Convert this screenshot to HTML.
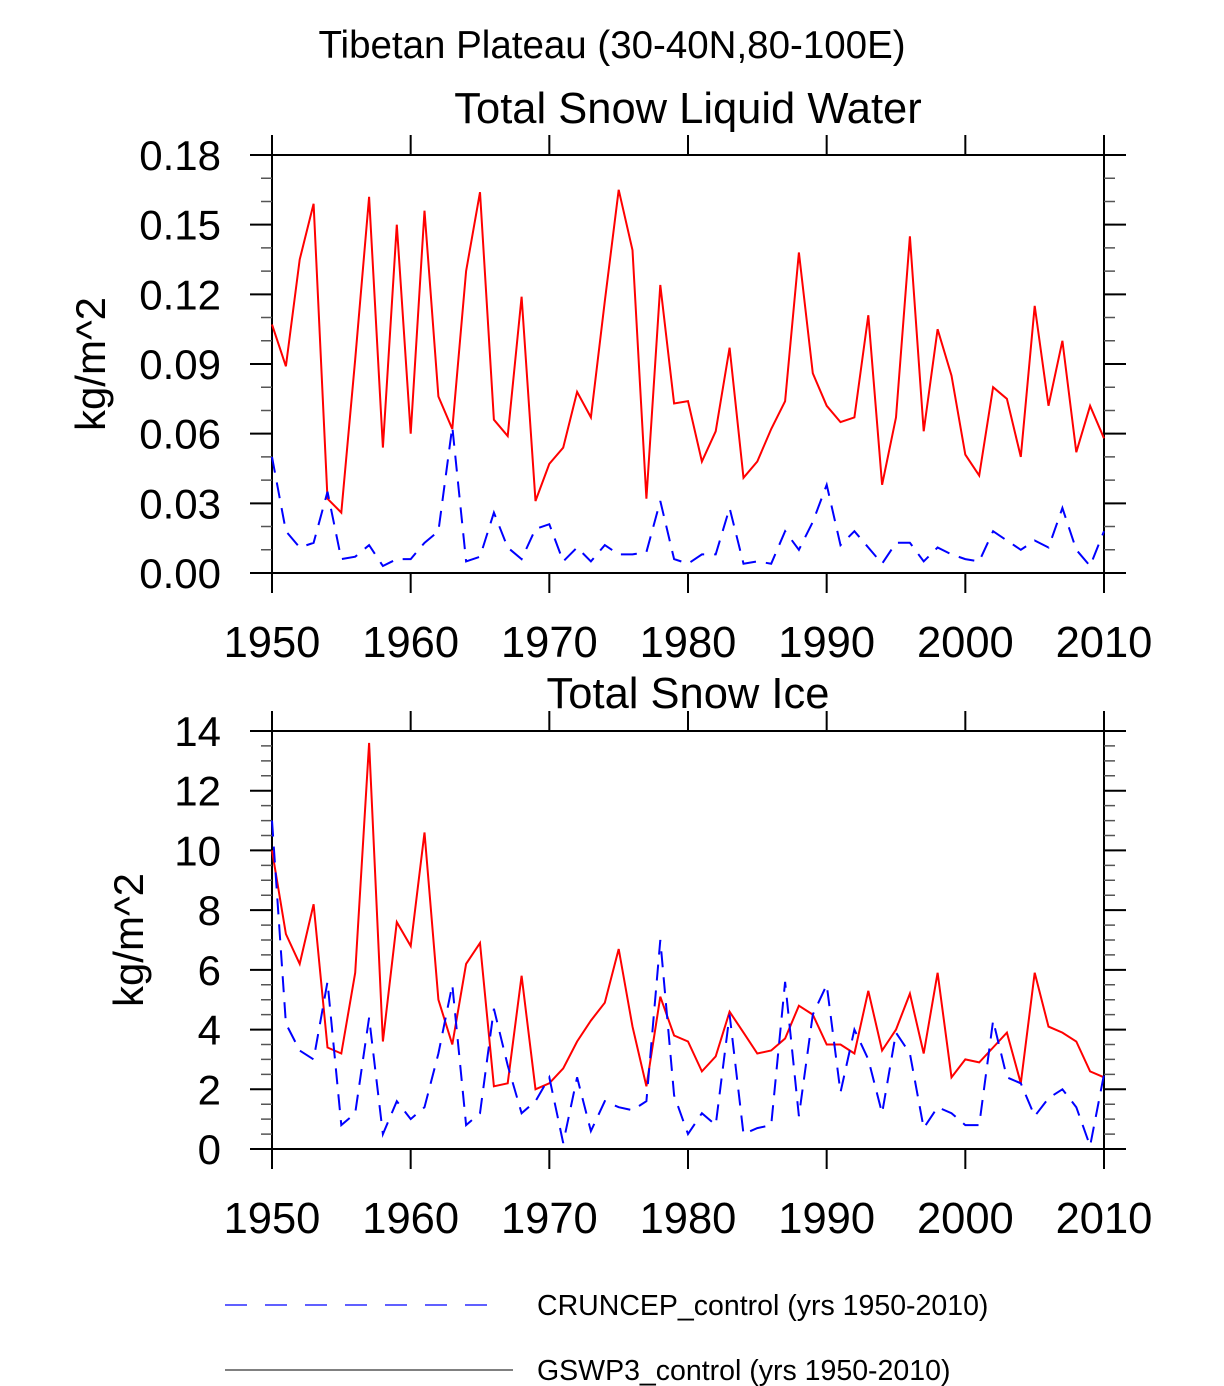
<!DOCTYPE html>
<html><head><meta charset="utf-8"><style>
body{margin:0;background:#fff;}
svg{display:block;font-family:"Liberation Sans",Arial,sans-serif;}
</style></head><body>
<svg id="chart" width="1224" height="1386" viewBox="0 0 1224 1386" xmlns="http://www.w3.org/2000/svg">
<text x="612" y="58" font-size="38.5" text-anchor="middle">Tibetan Plateau (30-40N,80-100E)</text>
<g id="p1"></g>
<g id="p2"></g>
<g>
<line x1="225" y1="1305" x2="505" y2="1305" stroke="#0000ff" stroke-width="1.3" stroke-dasharray="22,18"/>
<text x="537" y="1315" font-size="28.5">CRUNCEP_control (yrs 1950-2010)</text>
<line x1="225" y1="1370" x2="513" y2="1370" stroke="#000" stroke-width="1"/>
<text x="537" y="1380" font-size="28.5">GSWP3_control (yrs 1950-2010)</text>
</g>
</svg>
<script>
const years = [];
for (let y = 1950; y <= 2010; y++) years.push(y);
const xTicks = [1950,1960,1970,1980,1990,2000,2010];
const waterTicks = ["0.00","0.03","0.06","0.09","0.12","0.15","0.18"];
const iceTicks = ["0","2","4","6","8","10","12","14"];
const waterGSWP3 = [0.107,0.089,0.135,0.159,0.032,0.026,0.092,0.162,0.054,0.150,0.060,0.156,0.076,0.062,0.130,0.164,0.066,0.059,0.119,0.031,0.047,0.054,0.078,0.067,0.117,0.165,0.139,0.032,0.124,0.073,0.074,0.048,0.061,0.097,0.041,0.048,0.062,0.074,0.138,0.086,0.072,0.065,0.067,0.111,0.038,0.067,0.145,0.061,0.105,0.085,0.051,0.042,0.080,0.075,0.050,0.115,0.072,0.100,0.052,0.072,0.058];
const waterCRUNCEP = [0.050,0.018,0.011,0.013,0.035,0.006,0.007,0.012,0.003,0.006,0.006,0.013,0.018,0.063,0.005,0.007,0.026,0.011,0.006,0.019,0.021,0.005,0.011,0.005,0.012,0.008,0.008,0.009,0.031,0.006,0.004,0.008,0.008,0.028,0.004,0.005,0.004,0.018,0.010,0.022,0.038,0.012,0.018,0.011,0.004,0.013,0.013,0.005,0.011,0.008,0.006,0.005,0.018,0.014,0.010,0.014,0.011,0.028,0.010,0.003,0.018];
const iceGSWP3 = [10.0,7.2,6.2,8.2,3.4,3.2,5.9,13.6,3.6,7.6,6.8,10.6,5.0,3.5,6.2,6.9,2.1,2.2,5.8,2.0,2.2,2.7,3.6,4.3,4.9,6.7,4.1,2.1,5.1,3.8,3.6,2.6,3.1,4.6,3.9,3.2,3.3,3.7,4.8,4.5,3.5,3.5,3.2,5.3,3.3,4.0,5.2,3.2,5.9,2.4,3.0,2.9,3.4,3.9,2.2,5.9,4.1,3.9,3.6,2.6,2.4];
const iceCRUNCEP = [11.0,4.2,3.3,3.0,5.6,0.8,1.2,4.4,0.5,1.6,1.0,1.4,3.2,5.5,0.8,1.2,4.7,2.8,1.2,1.6,2.4,0.2,2.4,0.6,1.6,1.4,1.3,1.6,7.0,1.8,0.5,1.2,0.8,4.5,0.5,0.7,0.8,5.6,1.1,4.5,5.5,1.9,4.0,3.0,1.2,3.9,3.2,0.7,1.4,1.2,0.8,0.8,4.3,2.4,2.2,1.1,1.7,2.0,1.4,0.1,2.5];

const NS = "http://www.w3.org/2000/svg";
function mk(parent, tag, attrs){ const e=document.createElementNS(NS,tag); for(const k in attrs) e.setAttribute(k,attrs[k]); parent.appendChild(e); return e; }

function panel(g, top, bottom, ymax, minorStep, tickLabels, title, titleY, red, blue, pfx){
  const L=272, R=1104;
  const xs = v => L + (v-1950)/60*(R-L);
  const ys = v => bottom - v/ymax*(bottom-top);
  const t = mk(g,'text',{x:688,y:titleY,'font-size':43.5,'text-anchor':'middle'});
  
  
  t.textContent = title;
  const box = mk(g,'rect',{x:L,y:top,width:R-L,height:bottom-top,fill:'none',stroke:'#000','stroke-width':2});
  
  
  const nMinor = Math.round(ymax/minorStep);
  for(let i=0;i<=nMinor;i++){
    const y = ys(i*minorStep);
    const mt = mk(g,'path',{d:`M${L-11} ${y}H${L}M${R} ${y}H${R+11}`,stroke:'#555','stroke-width':1.5});
    
    
  }
  tickLabels.forEach(lab=>{
    const y = ys(parseFloat(lab));
    const tk = mk(g,'path',{d:`M${L-22} ${y}H${L}M${R} ${y}H${R+22}`,stroke:'#000','stroke-width':2});
    
    
    const tl = mk(g,'text',{x:221,y:y+15,'font-size':42,'text-anchor':'end'});
    
    
    tl.textContent = lab;
  });
  xTicks.forEach(v=>{
    const x = xs(v);
    const tk = mk(g,'path',{d:`M${x} ${bottom}V${bottom+20}M${x} ${top}V${top-20}`,stroke:'#000','stroke-width':2});
    
    
    const tl = mk(g,'text',{x:x,y:bottom+84,'font-size':43.5,'text-anchor':'middle'});
    
    
    tl.textContent = String(v);
  });
  const cy = (top+bottom)/2;
  const yt = mk(g,'text',{x:0,y:0,'font-size':42,'text-anchor':'middle',transform:`translate(${pfx==='water'?105:143},${cy}) rotate(-90)`});
  
  
  yt.textContent = 'kg/m^2';
  const rp = red.map((v,i)=>`${xs(years[i]).toFixed(1)},${ys(v).toFixed(1)}`).join(' ');
  const rl = mk(g,'polyline',{points:rp,fill:'none',stroke:'#ff0000','stroke-width':2,'stroke-linejoin':'miter'});
  
  
  const bp = blue.map((v,i)=>`${xs(years[i]).toFixed(1)},${ys(v).toFixed(1)}`).join(' ');
  const bl = mk(g,'polyline',{points:bp,fill:'none',stroke:'#0000ff','stroke-width':2,'stroke-dasharray':'16,10'});
  
  
}
panel(document.getElementById('p1'),155,573,0.18,0.01,waterTicks,'Total Snow Liquid Water',123,waterGSWP3,waterCRUNCEP,'water');
panel(document.getElementById('p2'),731,1149,14,0.5,iceTicks,'Total Snow Ice',708,iceGSWP3,iceCRUNCEP,'ice');
</script>
</body></html>
